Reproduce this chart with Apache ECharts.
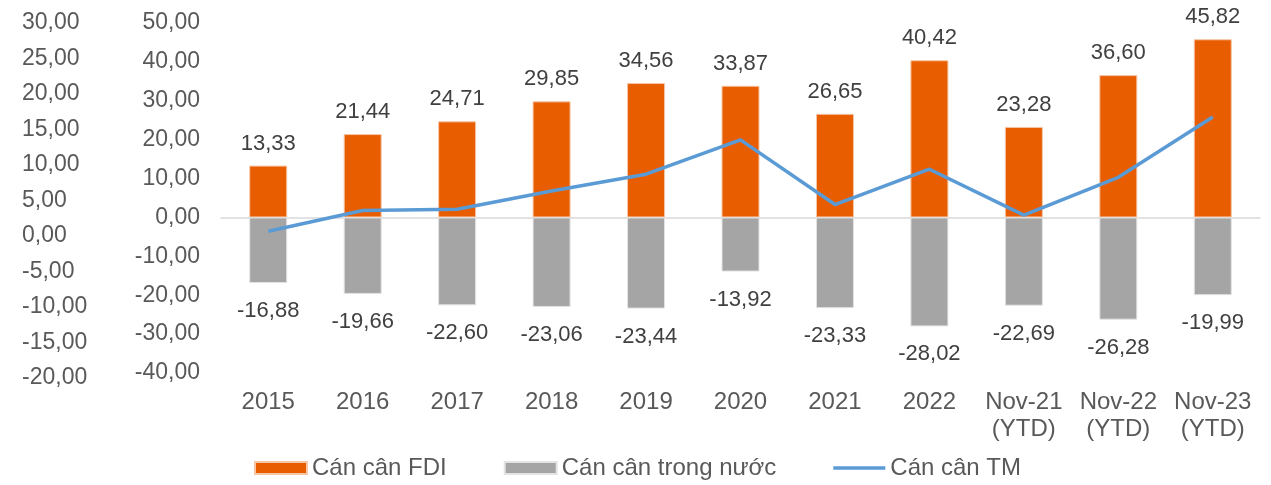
<!DOCTYPE html>
<html>
<head>
<meta charset="utf-8">
<script src="https://cdn.jsdelivr.net/npm/echarts@6/dist/echarts.min.js"></script>
<style>
  html, body { margin: 0; padding: 0; background: #fff; }
  #chart { width: 1271px; height: 485px; }
</style>
</head>
<body>
<div id="chart"></div>
<script>
var categories = ['2015', '2016', '2017', '2018', '2019', '2020', '2021', '2022', 'Nov-21\n(YTD)', 'Nov-22\n(YTD)', 'Nov-23\n(YTD)'];
var fdiBalance = [13.33, 21.44, 24.71, 29.85, 34.56, 33.87, 26.65, 40.42, 23.28, 36.60, 45.82];
var domesticBalance = [-16.88, -19.66, -22.60, -23.06, -23.44, -13.92, -23.33, -28.02, -22.69, -26.28, -19.99];
var tradeBalance = [-3.55, 1.78, 2.11, 6.79, 11.12, 19.95, 3.32, 12.40, 0.59, 10.32, 25.83];

var fmt = function (v) { return Number(v).toFixed(2).replace('.', ','); };
var font = 'Liberation Sans, Arial, sans-serif';

var chart = echarts.init(document.getElementById('chart'));
var option = {
    animation: false,
    textStyle: { fontFamily: font },
    grid: [
        { left: 221, right: 11, top: 23, bottom: 112 },
        { left: 221, right: 11, top: 23, bottom: 107 }
    ],
    legend: {
        left: 254,
        top: 456,
        padding: 0,
        itemWidth: 52,
        itemHeight: 12,
        itemGap: 57,
        symbolKeepAspect: true,
        textStyle: { fontSize: 24, color: '#595959', fontFamily: font },
        data: [
            { name: 'Cán cân FDI', icon: 'rect' },
            { name: 'Cán cân trong nước', icon: 'rect' },
            {
                name: 'Cán cân TM',
                icon: 'path://M0,0 L52,0 L52,3.5 L0,3.5 Z',
                itemStyle: { color: '#5b9bd5' }
            }
        ]
    },
    xAxis: [
        {
            type: 'category',
            data: categories,
            gridIndex: 0,
            position: 'bottom',
            axisLine: { show: false, onZero: false },
            axisTick: { show: false },
            axisLabel: { fontSize: 24, color: '#595959', margin: 16, lineHeight: 27, interval: 0 }
        },
        {
            type: 'category',
            data: categories,
            gridIndex: 0,
            position: 'bottom',
            axisLine: { show: true, onZero: true, lineStyle: { color: '#d9d9d9', width: 1.5 } },
            axisTick: { show: false },
            axisLabel: { show: false }
        },
        {
            type: 'category',
            data: categories,
            gridIndex: 1,
            show: false
        }
    ],
    yAxis: [
        {
            type: 'value',
            gridIndex: 0,
            min: -40,
            max: 50,
            interval: 10,
            splitLine: { show: false },
            axisLine: { show: false },
            axisTick: { show: false },
            axisLabel: { fontSize: 23, color: '#595959', margin: 21, formatter: fmt }
        },
        {
            type: 'value',
            gridIndex: 1,
            position: 'left',
            offset: 199,
            min: -20,
            max: 30,
            interval: 5,
            splitLine: { show: false },
            axisLine: { show: false },
            axisTick: { show: false },
            axisLabel: { fontSize: 23, color: '#595959', margin: 0, align: 'left', formatter: fmt }
        }
    ],
    series: [
        {
            name: 'Cán cân FDI',
            type: 'bar',
            stack: 'balance',
            barWidth: 38,
            data: fdiBalance,
            itemStyle: { color: '#e85d00', borderColor: '#f6c6a6', borderWidth: 1 },
            label: {
                show: true,
                position: 'top',
                distance: 11,
                fontSize: 22,
                color: '#404040',
                formatter: function (p) { return fmt(p.value); }
            }
        },
        {
            name: 'Cán cân trong nước',
            type: 'bar',
            stack: 'balance',
            barWidth: 38,
            data: domesticBalance,
            itemStyle: { color: '#a5a5a5', borderColor: '#e4e4e4', borderWidth: 1 },
            label: {
                show: true,
                position: 'bottom',
                distance: 17,
                fontSize: 22,
                color: '#404040',
                formatter: function (p) { return fmt(p.value); }
            }
        },
        {
            name: 'Cán cân TM',
            type: 'line',
            data: tradeBalance,
            symbol: 'none',
            lineStyle: { color: '#5b9bd5', width: 3.5 },
            itemStyle: { color: '#5b9bd5' },
            z: 5
        }
    ]
};
chart.setOption(option);
window.addEventListener('resize', function () {
    chart.resize();
});
</script>
</body>
</html>
